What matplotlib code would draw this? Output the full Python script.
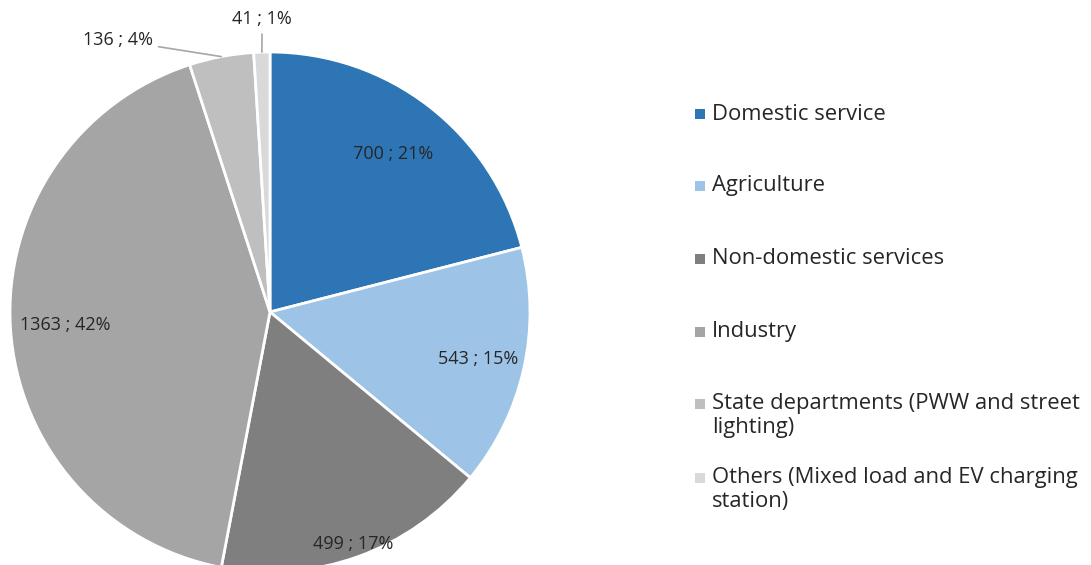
import numpy as np
import matplotlib
matplotlib.use('Agg')
import matplotlib.pyplot as plt
from matplotlib.patches import Rectangle

plt.rcParams['font.family'] = ['Open Sans', 'DejaVu Sans']

# Consumer categories (connections and share)
categories = ['Domestic service', 'Agriculture', 'Non-domestic services', 'Industry',
              'State departments (PWW and street\nlighting)',
              'Others (Mixed load and EV charging\nstation)']
counts = [700, 543, 499, 1363, 136, 41]
shares = [21, 15, 17, 42, 4, 1]
colors = ['#2E75B6', '#9DC3E6', '#7F7F7F', '#A5A5A5', '#BFBFBF', '#D9D9D9']

W, H = 1091, 565
fig = plt.figure(figsize=(W / 100, H / 100), dpi=100)

# pie axes: 260 px per unit, centre at (270, 312) px from top-left
scale, cx, cy = 260.0, 270.0, 312.0
ax_w = 620
ax = fig.add_axes([0, 0, ax_w / W, 1])
wedges, _ = ax.pie(shares, colors=colors, startangle=90, counterclock=False,
                   wedgeprops=dict(edgecolor='white', linewidth=2))
ax.set_aspect('auto')
ax.set_xlim(-cx / scale, (ax_w - cx) / scale)
ax.set_ylim((cy - H) / scale, cy / scale)
ax.axis('off')

# mid angle of each wedge
mids = [np.deg2rad((w.theta1 + w.theta2) / 2) for w in wedges]

def label(i):
    return f'{counts[i]} ; {shares[i]}%'

inner_r = [0.77, 0.82, 0.95, 0.79]
for i, r in enumerate(inner_r):
    ax.text(r * np.cos(mids[i]), r * np.sin(mids[i]), label(i),
            ha='center', va='center', fontsize=13, color='#262626')

# small slices labelled outside with leader lines
outside = {4: (-0.45, 1.045, 'right'), 5: (-0.03, 1.125, 'center')}
for i, (tx, ty, ha) in outside.items():
    ax.annotate(label(i),
                xy=(np.cos(mids[i]), np.sin(mids[i])), xytext=(tx, ty),
                ha=ha, va='center', fontsize=13, color='#262626',
                annotation_clip=False,
                arrowprops=dict(arrowstyle='-', color='#A6A6A6', lw=1.2,
                                shrinkA=2, shrinkB=0))

# legend
leg_x, sq = 695, 10
row_y = [114, 186, 259, 332, 404, 478]
line_gap = 23
for lab, col, y in zip(categories, colors, row_y):
    fig.patches.append(Rectangle((leg_x / W, 1 - (y + sq / 2) / H), sq / W, sq / H,
                                 transform=fig.transFigure, facecolor=col,
                                 edgecolor='none'))
    for k, line in enumerate(lab.split('\n')):
        fig.text((leg_x + 17) / W, 1 - (y + k * line_gap) / H, line,
                 ha='left', va='center', fontsize=15.8, color='#262626')

fig.savefig('out.png', dpi=100)
